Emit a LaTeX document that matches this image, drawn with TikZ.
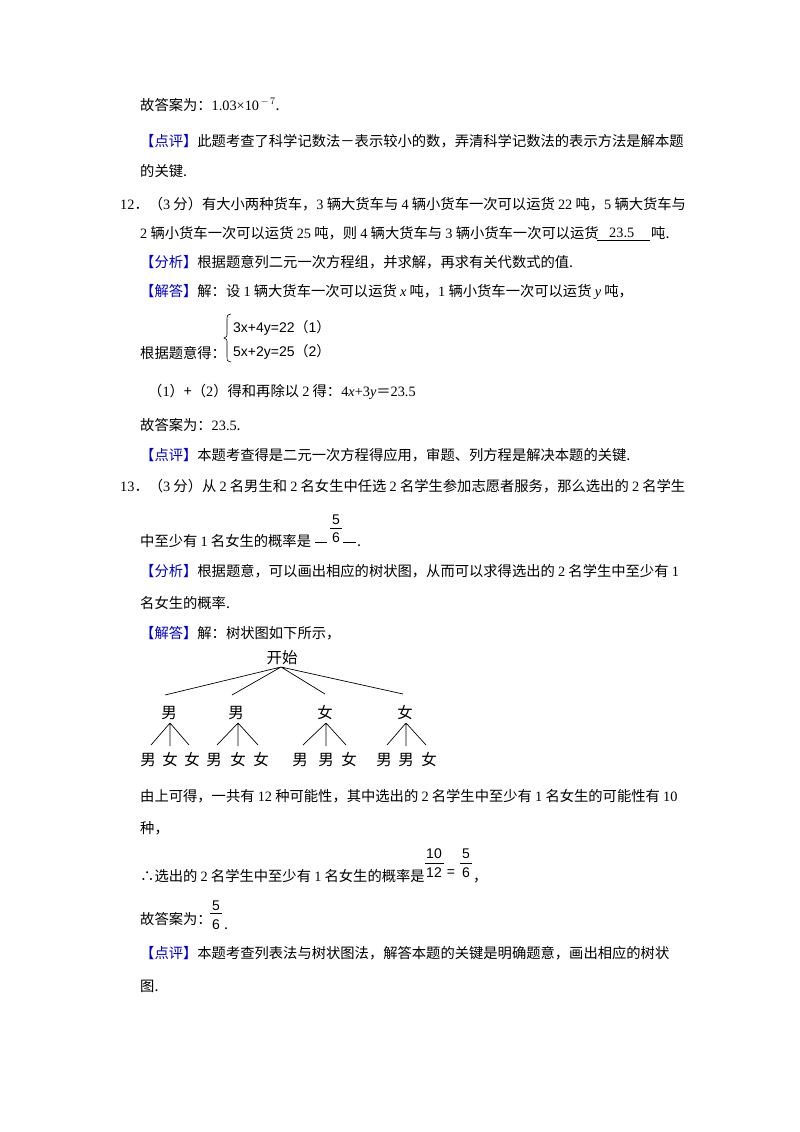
\documentclass[tikz,border=0pt]{standalone}
\usepackage{fontspec}
\setmainfont{Liberation Serif}
\newfontfamily\cjk{Noto Sans CJK SC}
\newfontfamily\arl{Liberation Sans}
\newcommand{\T}[1]{{\rmfamily #1}}
\newcommand{\B}[1]{\textcolor{blue!80!black}{#1}}
\begin{document}
\begin{tikzpicture}[x=1pt,y=-1pt,
 t/.style={anchor=base west,inner sep=0pt,font=\cjk\fontsize{14.3}{14.3}\selectfont},
 tr/.style={anchor=base,inner sep=0pt,font=\cjk\fontsize{15.5}{15.5}\selectfont},
 fr/.style={inner sep=0pt,font=\arl\fontsize{14}{14}\selectfont},
 fb/.style={line width=1pt},
 br/.style={line width=0.6pt}]
\useasboundingbox (0,0) rectangle (800,1132);
\fill[white] (0,0) rectangle (800,1132);
\node[t] (l1) at (140,110) {故答案为：\T{1.03×10$^{\,-\,7}$}.};
\node[t] (l2) at (140,146) {\B{【点评】}此题考查了科学记数法－表示较小的数，弄清科学记数法的表示方法是解本题};
\node[t] (l3) at (140,176) {的关键.};
\node[t] (l4) at (120,209) {\T{12}．（\T{3} 分）有大小两种货车，\T{3} 辆大货车与 \T{4} 辆小货车一次可以运货 \T{22} 吨，\T{5} 辆大货车与};
\node[t] (l5) at (140,238) {\T{2} 辆小货车一次可以运货 \T{25} 吨，则 \T{4} 辆大货车与 \T{3} 辆小货车一次可以运货};
\node[t] (a1) at (609,237) {\T{23.5}};
\node[t] (l5b) at (651,238) {吨.};
\draw[line width=0.6pt] (597,240) -- (650,240);
\node[t] (l6) at (140,267) {\B{【分析】}根据题意列二元一次方程组，并求解，再求有关代数式的值.};
\node[t] (l7) at (140,296) {\B{【解答】}解：设 \T{1} 辆大货车一次可以运货 \T{\textit{x}} 吨，\T{1} 辆小货车一次可以运货 \T{\textit{y}} 吨，};
\node[t] (l8) at (140,358) {根据题意得：};
\draw[br] (231,314) .. controls (227,315) .. (227,322) -- (227,332) .. controls (227,337) .. (224,338) .. controls (227,339) .. (227,344) -- (227,355) .. controls (227,361) .. (231,362);
\node[fr,anchor=base west] (e1) at (233,332) {3x+4y=22{\cjk（}1{\cjk）}};
\node[fr,anchor=base west] (e2) at (233,356) {5x+2y=25{\cjk（}2{\cjk）}};
\node[t] (l9) at (148,396) {（\T{1}）+（\T{2}）得和再除以 \T{2} 得：\T{4\textit{x}+3\textit{y}}＝\T{23.5}};
\node[t] (l10) at (140,430) {故答案为：\T{23.5}.};
\node[t] (l11) at (140,460) {\B{【点评】}本题考查得是二元一次方程得应用，审题、列方程是解决本题的关键.};
\node[t] (l12) at (120,491) {\T{13}．（\T{3} 分）从 \T{2} 名男生和 \T{2} 名女生中任选 \T{2} 名学生参加志愿者服务，那么选出的 \T{2} 名学生};
\node[t] (l13) at (140,546) {中至少有 \T{1} 名女生的概率是};
\draw[line width=0.6pt] (315,542) -- (327,542) (343,542) -- (356,542);
\node[fr] (f1n) at (336,520) {5};
\draw[fb] (330,528) -- (342,528);
\node[fr] (f1d) at (336,538) {6};
\node[t] (l13b) at (357,546) {.};
\node[t] (l14) at (140,576) {\B{【分析】}根据题意，可以画出相应的树状图，从而可以求得选出的 \T{2} 名学生中至少有 \T{1}};
\node[t] (l15) at (140,608) {名女生的概率.};
\node[t] (l16) at (140,638) {\B{【解答】}解：树状图如下所示，};
% tree
\node[tr] (root) at (282,663) {开始};
\node[tr] (a) at (169,718) {男};\node[tr] (b) at (236,718) {男};\node[tr] (c) at (325,718) {女};\node[tr] (d) at (405,718) {女};
\coordinate (r) at (281,667);
\draw[line width=0.7pt] (r) -- (165,695) (r) -- (232,695) (r) -- (325,694) (r) -- (403,694);
\foreach \px/\a/\b/\c/\la/\lb/\lc in {170/148/170/192/男/女/女, 238/214/238/261/男/女/女, 326/300/326/349/男/男/女, 406/384/406/429/男/男/女}{
  \coordinate (p) at (\px,723);
  \draw[line width=0.7pt] (p) -- (\a+3,745) (p) -- (\b,746) (p) -- (\c-3,745);
  \node[tr] at (\a,765) {\la}; \node[tr] at (\b,765) {\lb}; \node[tr] at (\c,765) {\lc};
}
\node[t] (l17) at (140,801) {由上可得，一共有 \T{12} 种可能性，其中选出的 \T{2} 名学生中至少有 \T{1} 名女生的可能性有 \T{10}};
\node[t] (l18) at (140,833) {种，};
\node[t] (l19) at (140,881) {∴选出的 \T{2} 名学生中至少有 \T{1} 名女生的概率是};
\node[fr] (g1) at (434,854) {10};
\draw[fb] (425,863) -- (444,863);
\node[fr] (g2) at (434,873) {12};
\node[fr] (eq) at (451,873) {=};
\node[fr] (g3) at (466,854) {5};
\draw[fb] (460,863) -- (472,863);
\node[fr] (g4) at (466,873) {6};
\node[t] (l19b) at (473,881) {，};
\node[t] (l20) at (140,924) {故答案为：};
\node[fr] (h1) at (216,906) {5};
\draw[fb] (210,913) -- (222,913);
\node[fr] (h2) at (216,925) {6};
\node[t] (l20b) at (224,929) {.};
\node[t] (l21) at (140,958) {\B{【点评】}本题考查列表法与树状图法，解答本题的关键是明确题意，画出相应的树状};
\node[t] (l22) at (140,991) {图.};
\end{tikzpicture}
\end{document}
